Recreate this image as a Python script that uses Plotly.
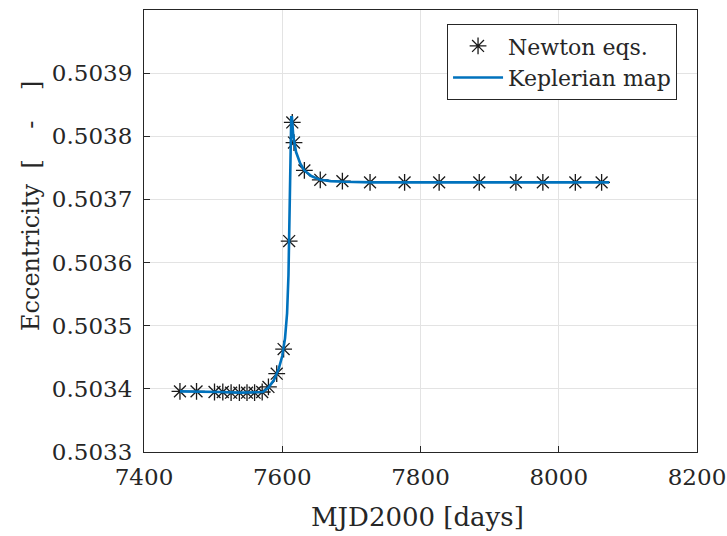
import plotly.graph_objects as go

# Newton eqs. (markers)
newton_t = [7452, 7476, 7502, 7514, 7526, 7538, 7549, 7560, 7571, 7580, 7592, 7602,
            7610, 7614.5, 7617, 7632, 7655, 7687, 7727, 7777, 7827, 7885, 7938, 7977,
            8024, 8062]
newton_e = [0.503396, 0.503396, 0.503395, 0.503395, 0.503394, 0.503394, 0.503394,
            0.503394, 0.503395, 0.503403, 0.503424, 0.503463, 0.503634, 0.503822,
            0.503790, 0.503746, 0.503731, 0.503729, 0.503727, 0.503727, 0.503727,
            0.503727, 0.503727, 0.503727, 0.503727, 0.503727]

# Keplerian map (line)
kep_t = [7452, 7480, 7510, 7540, 7560, 7572, 7580, 7588, 7595, 7600, 7604, 7607,
         7609, 7610, 7611, 7612, 7613, 7614, 7616, 7620, 7626, 7632, 7642, 7655,
         7670, 7690, 7730, 7800, 7900, 8000, 8073]
kep_e = [0.503396, 0.503396, 0.503395, 0.503394, 0.503394, 0.503395, 0.503402,
         0.503414, 0.503432, 0.503452, 0.503480, 0.503520, 0.503580, 0.503634,
         0.503700, 0.503790, 0.503830, 0.503830, 0.503800, 0.503775, 0.503757,
         0.503746, 0.503737, 0.503731, 0.503729, 0.503728, 0.503727, 0.503727,
         0.503727, 0.503727, 0.503727]

x_ticks = [7400, 7600, 7800, 8000, 8200]
y_ticks = [0.5033, 0.5034, 0.5035, 0.5036, 0.5037, 0.5038, 0.5039]

x_title = "MJD2000 [days]"
NB = "\u00a0"
y_title = "Eccentricity" + NB + " [" + NB * 4 + "-" + NB * 4 + "]"

FONT = "DejaVu Serif"
INK = "#262626"

fig = go.Figure()
fig.add_trace(go.Scatter(
    x=newton_t, y=newton_e, mode="markers", name="Newton eqs.",
    marker=dict(symbol="asterisk-open", size=14, color="#1a1a1a",
                line=dict(color="#1a1a1a", width=1.3)),
))
fig.add_trace(go.Scatter(
    x=kep_t, y=kep_e, mode="lines", name="Keplerian map",
    line=dict(color="#0072BD", width=2.6),
))

axis_common = dict(
    showgrid=True, gridcolor="#e3e3e3", gridwidth=1,
    showline=True, linecolor=INK, linewidth=1.2, mirror=True,
    ticks="inside", ticklen=6, tickcolor=INK,
    zeroline=False, automargin=False,
    tickfont=dict(family=FONT, size=23, color=INK),
)

fig.update_xaxes(
    range=[7400, 8200], tickvals=x_ticks, ticktext=[str(v) for v in x_ticks],
    ticklabelstandoff=4, ticklabeloverflow="allow",
    **axis_common,
)
fig.update_yaxes(
    range=[0.5033, 0.50400], tickvals=y_ticks, ticktext=[f"{v:.4f}" for v in y_ticks],
    ticklabelstandoff=6,
    **axis_common,
)

fig.add_annotation(
    text=x_title, xref="paper", yref="paper", x=0.4937, y=-0.147,
    xanchor="center", yanchor="middle", showarrow=False,
    font=dict(family=FONT, size=26, color=INK),
)
fig.add_annotation(
    text=y_title, xref="paper", yref="paper", x=-0.2043, y=0.5566,
    xanchor="center", yanchor="middle", showarrow=False, textangle=-90,
    font=dict(family=FONT, size=24, color=INK),
)

fig.update_layout(
    width=727, height=536,
    margin=dict(l=144, r=30, t=10, b=84, autoexpand=False),
    paper_bgcolor="white", plot_bgcolor="white",
    showlegend=True,
    legend=dict(
        x=0.548, y=0.968, xanchor="left", yanchor="top",
        bgcolor="white", bordercolor=INK, borderwidth=1,
        font=dict(family=FONT, size=22, color=INK),
        itemwidth=50, tracegroupgap=0,
    ),
)

fig.write_html(
    "out.html",
    config={"displayModeBar": False},
    post_script="document.body.style.margin='0';document.body.style.overflow='hidden';",
)
